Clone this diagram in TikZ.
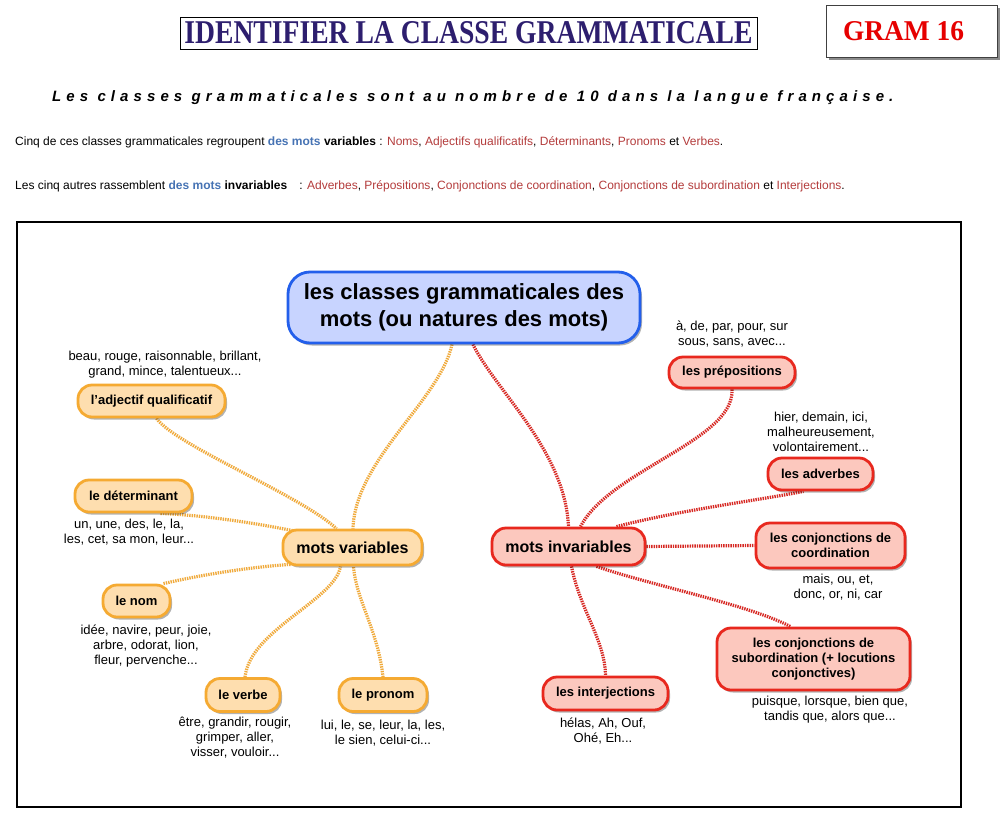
\documentclass[tikz,border=0pt]{standalone}
\usepackage{fontspec}
\setmainfont{Liberation Sans}
\newfontfamily\titlefont{Liberation Serif}
\newfontfamily\spacedfont[LetterSpace=34]{Liberation Sans}
\usetikzlibrary{shadows}
\pgfdeclarelayer{bg}
\pgfsetlayers{bg,main}
\definecolor{navy}{RGB}{45,30,110}
\definecolor{gramred}{RGB}{230,0,0}
\definecolor{bluem}{RGB}{70,115,180}
\definecolor{itemred}{RGB}{180,60,60}
\definecolor{orb}{RGB}{245,170,50}
\definecolor{orf}{RGB}{254,222,175}
\definecolor{rdb}{RGB}{232,40,30}
\definecolor{rdf}{RGB}{252,200,190}
\definecolor{blb}{RGB}{35,95,235}
\definecolor{blf}{RGB}{200,212,255}
\definecolor{orl}{RGB}{240,170,60}
\definecolor{rdl}{RGB}{215,40,35}
\newcommand{\itm}[1]{\textcolor{itemred}{#1}}
\begin{document}
\begin{tikzpicture}[x=1pt,y=-1pt,
  shad/.style={drop shadow={shadow xshift=2pt, shadow yshift=-2.5pt, opacity=0.3, fill=black}},
  rootbox/.style={draw=blb, fill=blf, line width=2.8pt, rounded corners=22pt, inner sep=2pt,
    align=center, font=\bfseries\fontsize{22}{27}\selectfont, shad},
  obox/.style={draw=orb, fill=orf, line width=2.8pt, rounded corners=14pt, inner sep=2pt,
    align=center, font=\bfseries\fontsize{13}{15}\selectfont, shad},
  rbox/.style={draw=rdb, fill=rdf, line width=2.8pt, rounded corners=14pt, inner sep=2pt,
    align=center, font=\bfseries\fontsize{13}{15}\selectfont, shad},
  ex/.style={align=center, inner sep=0pt, font=\fontsize{13}{15}\selectfont},
  oline/.style={draw=orl, line width=3.2pt, dash pattern=on 1.4pt off 1pt},
  rline/.style={draw=rdl, line width=3.2pt, dash pattern=on 1.4pt off 1pt}]
\useasboundingbox (0,0) rectangle (1003,822);
\begin{pgfonlayer}{bg}
\fill[white] (0,0) rectangle (1003,822);
\end{pgfonlayer}

% header
\node[draw=black, line width=1pt, minimum width=577pt, minimum height=32pt, inner sep=0pt, text=navy]
  (title) at (468.5,33) {\resizebox{568pt}{22pt}{\titlefont\bfseries IDENTIFIER LA CLASSE GRAMMATICALE}};
\node[draw=black!75, line width=1pt, fill=white, minimum width=171pt, minimum height=52pt, inner sep=0pt,
  drop shadow={shadow xshift=2.5pt, shadow yshift=-2.5pt, opacity=1, fill=black!45}]
  (gram) at (911.5,31) {};
\node[inner sep=0pt, text=gramred] (gramtxt) at (903.5,31) {\resizebox{121pt}{19pt}{\titlefont\bfseries GRAM 16}};
\node[anchor=base west, inner sep=0pt] (sub) at (52,101)
  {\spacedfont\bfseries\itshape\fontsize{15}{17}\selectfont Les classes grammaticales sont au nombre de 10 dans la langue française.};
\node[anchor=base west, inner sep=0pt, font=\fontsize{12}{14}\selectfont] (line2) at (15,145)
  {Cinq de ces classes grammaticales regroupent \textcolor{bluem}{\bfseries des mots} \textbf{variables} : \itm{Noms}, \itm{Adjectifs qualificatifs}, \itm{Déterminants}, \itm{Pronoms} et \itm{Verbes}.};
\node[anchor=base west, inner sep=0pt, font=\fontsize{12}{14}\selectfont] (line3) at (15,189)
  {Les cinq autres rassemblent \textcolor{bluem}{\bfseries des mots} \textbf{invariables}\quad : \itm{Adverbes}, \itm{Prépositions}, \itm{Conjonctions de coordination}, \itm{Conjonctions de subordination} et \itm{Interjections}.};

% frame
\draw[line width=2pt] (17,222) rectangle (961,807);

% nodes
\node[rootbox, minimum width=352pt, minimum height=71pt] (root) at (464,307.5)
  {les classes grammaticales des\\mots (ou natures des mots)};
\node[obox, minimum width=139pt, minimum height=35pt, font=\bfseries\fontsize{16}{18}\selectfont] (mv) at (352.5,547.5) {mots variables};
\node[rbox, minimum width=153pt, minimum height=37pt, font=\bfseries\fontsize{16}{18}\selectfont] (mi) at (568.5,546.5) {mots invariables};

\node[obox, minimum width=147pt, minimum height=32pt] (adj) at (151.5,401) {l'adjectif qualificatif};
\node[obox, minimum width=117pt, minimum height=32pt] (det) at (133.5,496) {le déterminant};
\node[obox, minimum width=67pt, minimum height=32pt] (nom) at (136.5,601) {le nom};
\node[obox, minimum width=74pt, minimum height=33pt] (verbe) at (243,695) {le verbe};
\node[obox, minimum width=88pt, minimum height=33pt] (pronom) at (383,695) {le pronom};

\node[rbox, minimum width=126pt, minimum height=31pt] (prep) at (732,372.5) {les prépositions};
\node[rbox, minimum width=105pt, minimum height=32pt] (adv) at (820.5,474) {les adverbes};
\node[rbox, minimum width=149pt, minimum height=45pt, font=\bfseries\fontsize{13}{14.5}\selectfont] (coord) at (830.5,545.5) {les conjonctions de\\coordination};
\node[rbox, minimum width=193pt, minimum height=62pt] (subord) at (813.5,659) {les conjonctions de\\subordination (+ locutions\\conjonctives)};
\node[rbox, minimum width=125pt, minimum height=33pt] (interj) at (605.5,693.5) {les interjections};

% examples
\node[ex] (adjex) at (165,364.5) {beau, rouge, raisonnable, brillant,\\grand, mince, talentueux...};
\node[ex] (detex) at (129,532) {un, une, des, le, la,\\les, cet, sa mon, leur...};
\node[ex] (nomex) at (146,646) {idée, navire, peur, joie,\\arbre, odorat, lion,\\fleur, pervenche...};
\node[ex] (verbex) at (235,738) {être, grandir, rougir,\\grimper, aller,\\visser, vouloir...};
\node[ex] (pronex) at (383,733.5) {lui, le, se, leur, la, les,\\le sien, celui-ci...};
\node[ex] (prepex) at (732,334.5) {à, de, par, pour, sur\\sous, sans, avec...};
\node[ex] (advex) at (821,432) {hier, demain, ici,\\malheureusement,\\volontairement...};
\node[ex] (coordex) at (838,587) {mais, ou, et,\\donc, or, ni, car};
\node[ex] (subex) at (830,710) {puisque, lorsque, bien que,\\tandis que, alors que...};
\node[ex] (interex) at (603,731) {hélas, Ah, Ouf,\\Ohé, Eh...};

% connectors
\begin{pgfonlayer}{bg}
\draw[oline] ([xshift=-12pt]root.south) .. controls (440,400) and (355,460) .. ([xshift=0.5pt]mv.north);
\draw[rline] ([xshift=9pt]root.south) .. controls (495,390) and (565,450) .. ([xshift=0pt]mi.north);

\draw[oline] ([xshift=5pt]adj.south) .. controls (175,445) and (300,495) .. ([xshift=-16pt]mv.north);
\draw[oline] ([xshift=27pt]det.south) .. controls (200,515) and (250,522) .. ([xshift=-60pt,yshift=-2pt]mv.north);
\draw[oline] ([xshift=27pt]nom.north) .. controls (200,575) and (250,567) .. ([xshift=-62pt,yshift=2pt]mv.south);
\draw[oline] ([xshift=2pt]verbe.north) .. controls (250,630) and (335,600) .. ([xshift=-12pt]mv.south);
\draw[oline] (pronom.north) .. controls (378,630) and (356,600) .. ([xshift=1pt]mv.south);

\draw[rline] ([xshift=12pt]mi.north) .. controls (610,470) and (735,440) .. (prep.south);
\draw[rline] ([xshift=48pt]mi.north) .. controls (680,510) and (760,500) .. ([xshift=-17pt]adv.south);
\draw[rline] (mi.east) -- (coord.west);
\draw[rline] ([xshift=28pt]mi.south) .. controls (650,585) and (750,605) .. ([xshift=-23pt]subord.north);
\draw[rline] ([xshift=3pt]mi.south) .. controls (580,610) and (605,640) .. (interj.north);
\end{pgfonlayer}
\end{tikzpicture}
\end{document}
